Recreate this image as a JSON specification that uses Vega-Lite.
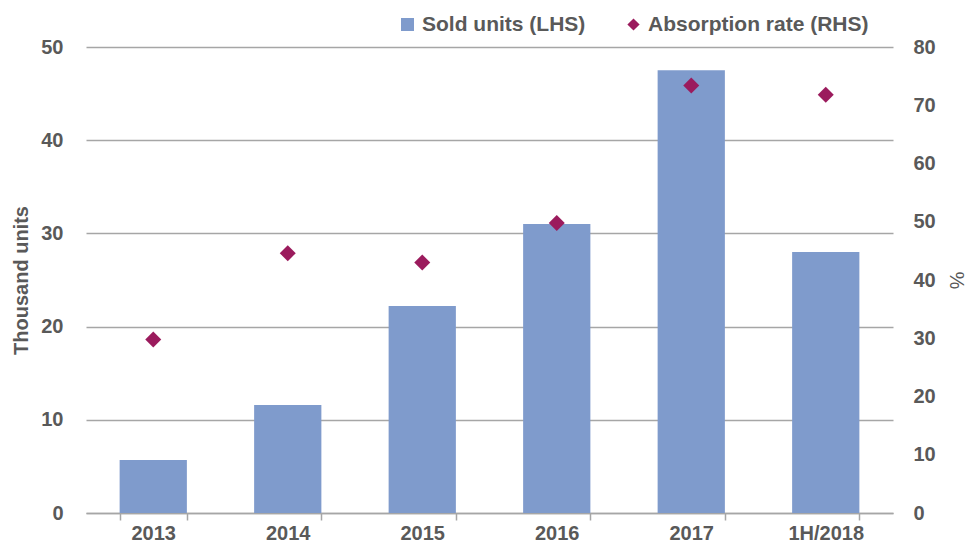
{
  "$schema": "https://vega.github.io/schema/vega-lite/v6.json",
  "width": 807,
  "height": 466,
  "autosize": {"type": "none"},
  "padding": {"left": 86, "top": 47, "right": 75, "bottom": 31},
  "background": "white",
  "config": {
    "view": {"stroke": null},
    "font": "Liberation Sans",
    "axis": {
      "labelFont": "Liberation Sans",
      "labelFontSize": 20,
      "labelFontWeight": "bold",
      "labelColor": "#595959",
      "titleFont": "Liberation Sans",
      "titleColor": "#595959",
      "titleFontSize": 20,
      "titleFontWeight": "bold"
    },
    "legend": {
      "labelFont": "Liberation Sans",
      "labelFontSize": 21,
      "labelFontWeight": "bold",
      "labelColor": "#595959",
      "labelLimit": 0,
      "padding": 0,
      "labelOffset": 4
    }
  },
  "data": {
    "values": [
      {"year": "2013", "sold": 5.7, "rate": 29.8},
      {"year": "2014", "sold": 11.6, "rate": 44.6},
      {"year": "2015", "sold": 22.2, "rate": 43.0},
      {"year": "2016", "sold": 31.0, "rate": 49.8},
      {"year": "2017", "sold": 47.5, "rate": 73.4},
      {"year": "1H/2018", "sold": 28.0, "rate": 71.8}
    ]
  },
  "encoding": {
    "x": {
      "field": "year",
      "type": "nominal",
      "sort": null,
      "scale": {"paddingInner": 0.5, "paddingOuter": 0.25},
      "axis": {
        "title": null,
        "labelAngle": 0,
        "domainColor": "#a6a6a6",
        "domainWidth": 1.5,
        "tickColor": "#a6a6a6",
        "tickWidth": 1.5,
        "tickSize": 7,
        "tickBand": "extent",
        "labelPadding": 3
      }
    }
  },
  "layer": [
    {
      "mark": {"type": "bar", "color": "#7f9bcc"},
      "encoding": {
        "y": {
          "field": "sold",
          "type": "quantitative",
          "scale": {"domain": [0, 50], "nice": false},
          "axis": {
            "title": "Thousand units",
            "values": [0, 10, 20, 30, 40, 50],
            "domain": false,
            "ticks": false,
            "tickSize": 0,
            "labelPadding": 23,
            "titlePadding": 9,
            "grid": true,
            "gridColor": "#a6a6a6",
            "gridWidth": 1.5
          }
        },
        "color": {
          "datum": "Sold units (LHS)",
          "scale": {"range": ["#7f9bcc"]},
          "legend": {
            "title": null,
            "orient": "none",
            "legendX": 311,
            "legendY": -33,
            "symbolType": "square",
            "symbolSize": 169,
            "symbolStrokeWidth": 0
          }
        }
      }
    },
    {
      "mark": {"type": "point", "shape": "diamond", "filled": true, "size": 256, "color": "#9b1b5d", "opacity": 1},
      "encoding": {
        "y": {
          "field": "rate",
          "type": "quantitative",
          "scale": {"domain": [0, 80], "nice": false},
          "axis": {
            "orient": "right",
            "title": "%",
            "titleFontWeight": "normal",
            "values": [0, 10, 20, 30, 40, 50, 60, 70, 80],
            "domain": false,
            "ticks": false,
            "tickSize": 0,
            "labelPadding": 20,
            "titlePadding": 10,
            "grid": false
          }
        },
        "shape": {
          "datum": "Absorption rate (RHS)",
          "scale": {"range": ["diamond"]},
          "legend": {
            "title": null,
            "orient": "none",
            "legendX": 537,
            "legendY": -33,
            "symbolSize": 150,
            "symbolFillColor": "#9b1b5d",
            "symbolStrokeWidth": 0
          }
        }
      }
    }
  ],
  "resolve": {"scale": {"y": "independent"}}
}
